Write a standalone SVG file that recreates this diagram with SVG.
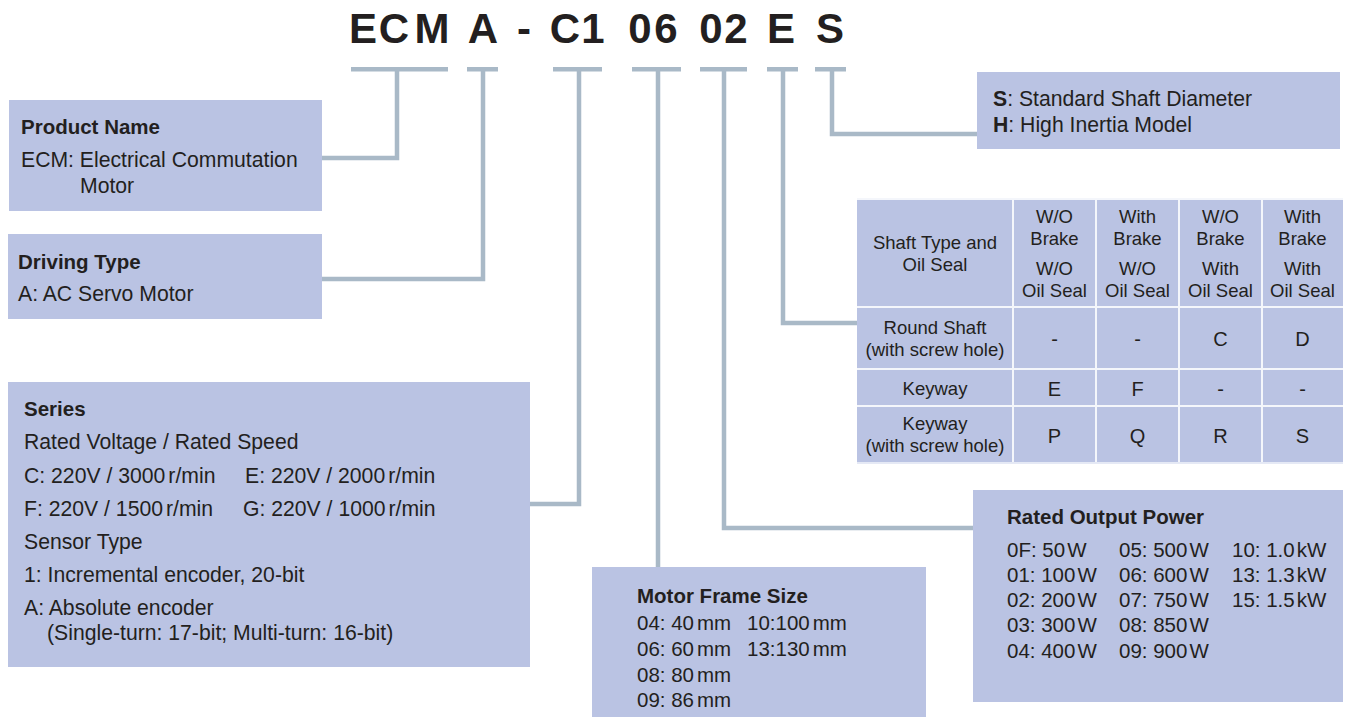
<svg xmlns="http://www.w3.org/2000/svg" width="1348" height="717" viewBox="0 0 1348 717">
<style>
text{font-family:"Liberation Sans",Arial,"Noto Sans",sans-serif;fill:#231f20}
.t{font-size:42px;font-weight:bold;text-anchor:middle}
.b{font-size:20.5px;font-weight:bold}
.r{font-size:20.5px}
.rl{font-size:21.2px}
.tb{font-size:18.5px;text-anchor:middle}
.tv{font-size:20px;text-anchor:middle}
.box{fill:#bac3e3}
.bar{fill:#a9b9c7}
.con{fill:none;stroke:#a9b9c7;stroke-width:4.5;stroke-linejoin:miter}
.grid{stroke:#f4f6fb;stroke-width:2}
</style>
<rect width="1348" height="717" fill="#ffffff"/>
<g id="title">
<text class="t" x="363" y="43">E</text>
<text class="t" x="394" y="43">C</text>
<text class="t" x="432" y="43">M</text>
<text class="t" x="483" y="43">A</text>
<text class="t" x="524" y="43">-</text>
<text class="t" x="565" y="43">C</text>
<text class="t" x="593" y="43">1</text>
<text class="t" x="640" y="43">0</text>
<text class="t" x="666" y="43">6</text>
<text class="t" x="711" y="43">0</text>
<text class="t" x="736" y="43">2</text>
<text class="t" x="781" y="43">E</text>
<text class="t" x="830" y="43">S</text>
</g>
<g id="connectors">
<rect class="bar" x="351" y="67" width="97" height="4.5"/>
<rect class="bar" x="467" y="67" width="31" height="4.5"/>
<rect class="bar" x="553" y="67" width="49" height="4.5"/>
<rect class="bar" x="632" y="67" width="49" height="4.5"/>
<rect class="bar" x="700" y="67" width="47" height="4.5"/>
<rect class="bar" x="767" y="67" width="31" height="4.5"/>
<rect class="bar" x="815" y="67" width="31" height="4.5"/>
<path class="con" d="M397 69V158H322"/>
<path class="con" d="M483 69V279H322"/>
<path class="con" d="M579 69V504H530"/>
<path class="con" d="M658 69V567"/>
<path class="con" d="M724 69V528H973"/>
<path class="con" d="M783 69V323H857"/>
<path class="con" d="M832 69V134H977"/>
</g>
<g id="product-name">
<rect class="box" x="9" y="100" width="313" height="111"/>
<text class="b" x="21" y="134">Product Name</text>
<text class="rl" x="21" y="167">ECM: Electrical Commutation</text>
<text class="rl" x="80" y="193">Motor</text>
</g>
<g id="driving-type">
<rect class="box" x="8" y="234" width="314" height="85"/>
<text class="b" x="18" y="269">Driving Type</text>
<text class="rl" x="18" y="301">A: AC Servo Motor</text>
</g>
<g id="series">
<rect class="box" x="8" y="382" width="522" height="285"/>
<text class="b" x="24" y="416">Series</text>
<text class="rl" x="24" y="449">Rated Voltage / Rated Speed</text>
<text class="rl" x="24" y="483">C: 220V / 3000<tspan dx="3">r/min</tspan></text>
<text class="rl" x="245" y="483">E: 220V / 2000<tspan dx="3">r/min</tspan></text>
<text class="rl" x="24" y="516">F: 220V / 1500<tspan dx="3">r/min</tspan></text>
<text class="rl" x="243" y="516">G: 220V / 1000<tspan dx="3">r/min</tspan></text>
<text class="rl" x="24" y="549">Sensor Type</text>
<text class="rl" x="24" y="582">1: Incremental encoder, 20-bit</text>
<text class="rl" x="24" y="615">A: Absolute encoder</text>
<text class="rl" x="47" y="640">(Single-turn: 17-bit; Multi-turn: 16-bit)</text>
</g>
<g id="motor-frame-size">
<rect class="box" x="592" y="567" width="334" height="150"/>
<text class="b" x="637" y="603">Motor Frame Size</text>
<text class="r" x="637" y="630">04: 40<tspan dx="3">mm</tspan></text>
<text class="r" x="747" y="630">10:100<tspan dx="3">mm</tspan></text>
<text class="r" x="637" y="656">06: 60<tspan dx="3">mm</tspan></text>
<text class="r" x="747" y="656">13:130<tspan dx="3">mm</tspan></text>
<text class="r" x="637" y="682">08: 80<tspan dx="3">mm</tspan></text>
<text class="r" x="637" y="707">09: 86<tspan dx="3">mm</tspan></text>
</g>
<g id="rated-output-power">
<rect class="box" x="973" y="490" width="370" height="212"/>
<text class="b" x="1007" y="524">Rated Output Power</text>
<text class="r" x="1007" y="557">0F: 50<tspan dx="2">W</tspan></text>
<text class="r" x="1007" y="582">01: 100<tspan dx="2">W</tspan></text>
<text class="r" x="1007" y="607">02: 200<tspan dx="2">W</tspan></text>
<text class="r" x="1007" y="632">03: 300<tspan dx="2">W</tspan></text>
<text class="r" x="1007" y="658">04: 400<tspan dx="2">W</tspan></text>
<text class="r" x="1119" y="557">05: 500<tspan dx="2">W</tspan></text>
<text class="r" x="1119" y="582">06: 600<tspan dx="2">W</tspan></text>
<text class="r" x="1119" y="607">07: 750<tspan dx="2">W</tspan></text>
<text class="r" x="1119" y="632">08: 850<tspan dx="2">W</tspan></text>
<text class="r" x="1119" y="658">09: 900<tspan dx="2">W</tspan></text>
<text class="r" x="1232" y="557">10: 1.0<tspan dx="2">kW</tspan></text>
<text class="r" x="1232" y="582">13: 1.3<tspan dx="2">kW</tspan></text>
<text class="r" x="1232" y="607">15: 1.5<tspan dx="2">kW</tspan></text>
</g>
<g id="shaft-diameter">
<rect class="box" x="977" y="72" width="363" height="77"/>
<text class="rl" x="993" y="106"><tspan font-weight="bold">S</tspan>: Standard Shaft Diameter</text>
<text class="rl" x="993" y="132"><tspan font-weight="bold">H</tspan>: High Inertia Model</text>
</g>
<g id="shaft-type-table">
<rect class="box" x="857" y="199" width="486" height="263"/>
<line class="grid" x1="857" y1="199" x2="1343" y2="199"/>
<line class="grid" x1="857" y1="307" x2="1343" y2="307"/>
<line class="grid" x1="857" y1="369" x2="1343" y2="369"/>
<line class="grid" x1="857" y1="406" x2="1343" y2="406"/>
<line class="grid" x1="1013" y1="199" x2="1013" y2="462"/>
<line class="grid" x1="1096" y1="199" x2="1096" y2="462"/>
<line class="grid" x1="1179" y1="199" x2="1179" y2="462"/>
<line class="grid" x1="1262" y1="199" x2="1262" y2="462"/>
<line x1="857" y1="463" x2="1343" y2="463" stroke="#dde2f2" stroke-width="1.5"/>
<text class="tb" x="935" y="249">Shaft Type and</text>
<text class="tb" x="935" y="271">Oil Seal</text>
<text class="tb" x="1054.5" y="223">W/O</text>
<text class="tb" x="1054.5" y="245">Brake</text>
<text class="tb" x="1054.5" y="275">W/O</text>
<text class="tb" x="1054.5" y="297">Oil Seal</text>
<text class="tb" x="1137.5" y="223">With</text>
<text class="tb" x="1137.5" y="245">Brake</text>
<text class="tb" x="1137.5" y="275">W/O</text>
<text class="tb" x="1137.5" y="297">Oil Seal</text>
<text class="tb" x="1220.5" y="223">W/O</text>
<text class="tb" x="1220.5" y="245">Brake</text>
<text class="tb" x="1220.5" y="275">With</text>
<text class="tb" x="1220.5" y="297">Oil Seal</text>
<text class="tb" x="1302.5" y="223">With</text>
<text class="tb" x="1302.5" y="245">Brake</text>
<text class="tb" x="1302.5" y="275">With</text>
<text class="tb" x="1302.5" y="297">Oil Seal</text>
<text class="tb" x="935" y="334">Round Shaft</text>
<text class="tb" x="935" y="356">(with screw hole)</text>
<text class="tv" x="1054.5" y="346">-</text>
<text class="tv" x="1137.5" y="346">-</text>
<text class="tv" x="1220.5" y="346">C</text>
<text class="tv" x="1302.5" y="346">D</text>
<text class="tb" x="935" y="395">Keyway</text>
<text class="tv" x="1054.5" y="396">E</text>
<text class="tv" x="1137.5" y="396">F</text>
<text class="tv" x="1220.5" y="396">-</text>
<text class="tv" x="1302.5" y="396">-</text>
<text class="tb" x="935" y="430">Keyway</text>
<text class="tb" x="935" y="452">(with screw hole)</text>
<text class="tv" x="1054.5" y="443">P</text>
<text class="tv" x="1137.5" y="443">Q</text>
<text class="tv" x="1220.5" y="443">R</text>
<text class="tv" x="1302.5" y="443">S</text>
</g>
</svg>
